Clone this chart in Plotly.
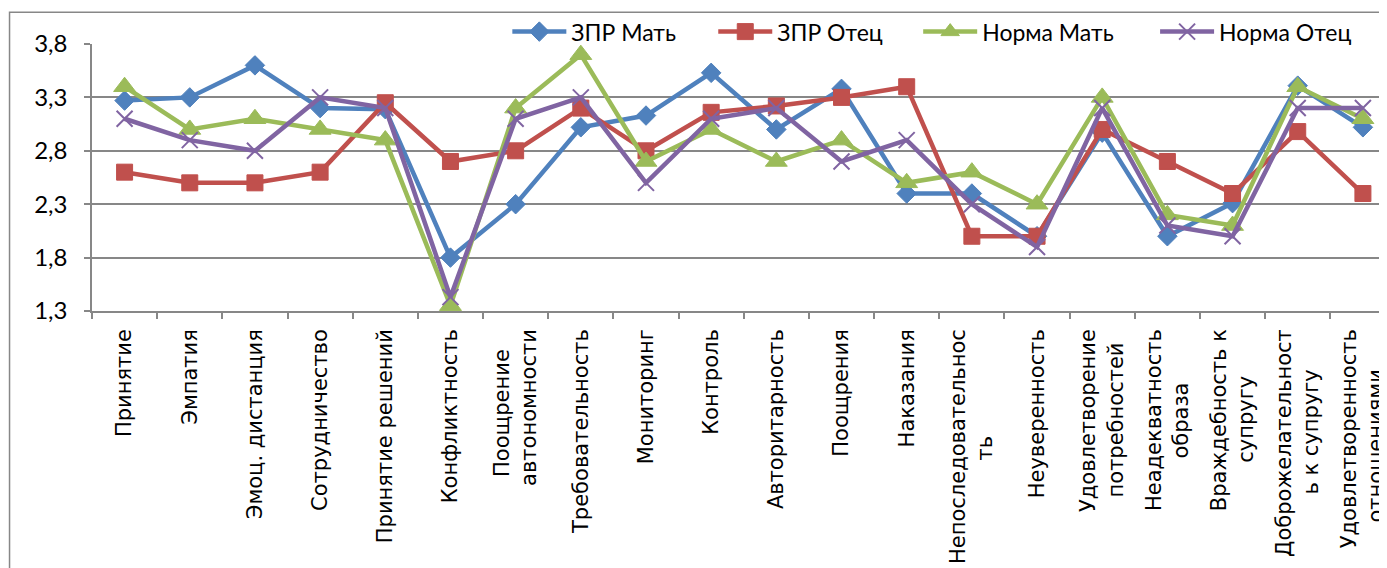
import plotly.graph_objects as go

categories = ["Принятие", "Эмпатия", "Эмоц. дистанция", "Сотрудничество", "Принятие решений",
              "Конфликтность", "Поощрение<br>автономности", "Требовательность", "Мониторинг", "Контроль",
              "Авторитарность", "Поощрения", "Наказания", "Непоследовательнос<br>ть", "Неуверенность",
              "Удовлетворение<br>потребностей", "Неадекватность<br>образа", "Враждебность к<br>супругу",
              "Доброжелательност<br>ь к супругу", "Удовлетворенность<br>отношениями"]

zpr_mat = [3.27, 3.30, 3.60, 3.20, 3.19, 1.80, 2.30, 3.02, 3.13, 3.53, 3.00, 3.38, 2.40, 2.40, 2.00, 2.97, 2.00, 2.31, 3.41, 3.02]
zpr_otec = [2.60, 2.50, 2.50, 2.60, 3.25, 2.70, 2.80, 3.20, 2.80, 3.16, 3.22, 3.30, 3.40, 2.00, 2.00, 3.00, 2.70, 2.40, 2.98, 2.40]
norma_mat = [3.40, 3.00, 3.10, 3.00, 2.90, 1.35, 3.20, 3.70, 2.70, 3.00, 2.70, 2.90, 2.50, 2.60, 2.30, 3.30, 2.20, 2.10, 3.40, 3.10]
norma_otec = [3.10, 2.90, 2.80, 3.30, 3.20, 1.43, 3.10, 3.30, 2.50, 3.10, 3.20, 2.70, 2.90, 2.30, 1.90, 3.20, 2.10, 2.00, 3.20, 3.20]

series_names = ["ЗПР Мать", "ЗПР Отец", "Норма Мать", "Норма Отец"]
y_ticks = [1.3, 1.8, 2.3, 2.8, 3.3, 3.8]

GRAY = "#878787"
OFF = 8  # page body margin

def center_lines(label):
    parts = label.split("<br>")
    if len(parts) == 1:
        return label
    longest = max(len(p) for p in parts)
    return "<br>".join(p + "\u00a0" * (longest - len(p)) for p in parts)


cats = [center_lines(c) for c in categories]

styles = [
    dict(color="#4F81BD", symbol="diamond", size=15),
    dict(color="#C0504D", symbol="square", size=16),
    dict(color="#9BBB59", symbol="triangle-up", size=19),
    dict(color="#8064A2", symbol="x-thin", size=16),
]
values = [zpr_mat, zpr_otec, norma_mat, norma_otec]
legend_keys = ["legend", "legend2", "legend3", "legend4"]

fig = go.Figure()
for name, vals, st, lk in zip(series_names, values, styles, legend_keys):
    marker = dict(symbol=st["symbol"], size=st["size"], color=st["color"],
                  line=dict(color=st["color"], width=2 if st["symbol"] == "x-thin" else 1))
    fig.add_trace(go.Scatter(x=cats, y=vals, mode="lines+markers", name=name,
                             line=dict(color=st["color"], width=4.5), marker=marker,
                             cliponaxis=False, legend=lk))

FW, FH = 1387 - OFF, 568 - OFF
L, T, B = 91.5 - OFF, 44.3 - OFF, 310.7 - OFF
W = FW - L
H = B - T
step = (1395.5 - 91.5) / 20

layout_legends = {}
legend_px = [507, 713, 918, 1155]
for lk, px in zip(legend_keys, legend_px):
    layout_legends[lk] = dict(x=(px - OFF - L) / W, xanchor="left", y=(B - (32 - OFF)) / H, yanchor="middle",
                              orientation="h", bgcolor="rgba(0,0,0,0)", borderwidth=0, itemwidth=54,
                              font=dict(family="Lato", size=23, color="black"))

fig.update_layout(
    width=FW, height=FH,
    margin=dict(l=L, r=0, t=T, b=FH - B, autoexpand=False),
    paper_bgcolor="white", plot_bgcolor="white",
    separators=", ",
    showlegend=True,
    xaxis=dict(type="category", range=[-0.5, -0.5 + W / step], tickson="boundaries",
               ticks="outside", ticklen=6, tickcolor=GRAY, tickwidth=1.5,
               showline=True, linecolor=GRAY, linewidth=1.5, showgrid=False,
               tickangle=-90, tickfont=dict(family="DejaVu Sans", size=21, color="black"),
               automargin=False, ticklabelstandoff=8),
    yaxis=dict(range=[1.3, 3.8], tickvals=y_ticks, tickformat=".1f",
               showgrid=True, gridcolor=GRAY, gridwidth=1.5, zeroline=False,
               ticks="outside", ticklen=6, tickcolor=GRAY, tickwidth=1.5,
               showline=True, linecolor=GRAY, linewidth=1.5, ticklabelstandoff=12,
               tickfont=dict(family="Lato", size=24, color="black"), automargin=False),
    **layout_legends,
)

fig.add_shape(type="rect", xref="paper", yref="paper",
              x0=(9 - OFF - L) / W, x1=1.05, y0=-1.2, y1=(B - (12.7 - OFF)) / H,
              line=dict(color=GRAY, width=1.5), fillcolor="rgba(0,0,0,0)", layer="below")

fig.write_html("out.html")
